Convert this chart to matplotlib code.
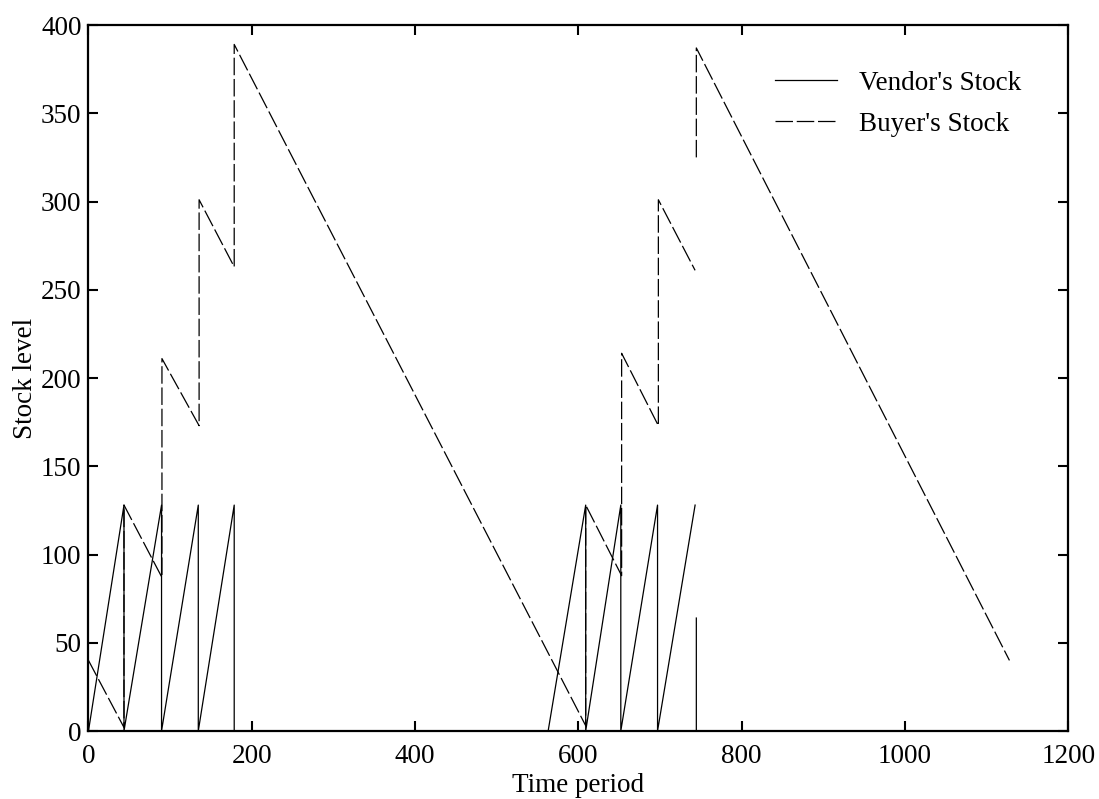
import numpy as np
import matplotlib
matplotlib.use("Agg")
import matplotlib.pyplot as plt

nan = np.nan

# Vendor's stock (solid)
vendor_t = [0, 43.5, 43.5, 89.5, 89.5, 134.5, 134.5, 178.5, 178.5, 563, 609, 609, 652, 652, 697, 697, 743, nan, 744.5, 744.5]
vendor_y = [0, 128, 0, 128, 0, 128, 0, 128, 0, 0, 128, 0, 128, 0, 128, 0, 128, nan, 64, 0]

# Buyer's stock (dashed)
buyer_t = [0, 43.5, 43.5, 90, 90, 135.5, 135.5, 178.5, 178.5, 609, 609, 653, 653, 698, 698, 743, nan, 744.5, 744.5, 1128]
buyer_y = [40, 2, 128, 87, 211, 173, 301, 263, 389, 3, 128, 88, 214, 173, 301, 261, nan, 325, 387, 40]

x_ticks = [0, 200, 400, 600, 800, 1000, 1200]
y_ticks = [0, 50, 100, 150, 200, 250, 300, 350, 400]

plt.rcParams['font.family'] = ['Liberation Serif', 'DejaVu Serif']

fig = plt.figure(figsize=(10.99, 7.99), dpi=100)
ax = fig.add_axes([0.0805, 0.0851, 0.8915, 0.8836])

ax.plot(vendor_t, vendor_y, color='black', lw=0.9, label="Vendor's Stock")
ax.plot(buyer_t, buyer_y, color='black', lw=0.9, linestyle=(0, (14, 3)), label="Buyer's Stock")

ax.set_xlim(0, 1200)
ax.set_ylim(0, 400)
ax.set_xticks(x_ticks)
ax.set_yticks(y_ticks)
ax.tick_params(direction='in', length=7, width=1.5, top=True, right=True,
               labelsize=19.5)
ax.tick_params(axis='x', pad=9)
ax.tick_params(axis='y', pad=5)
for s in ax.spines.values():
    s.set_linewidth(1.6)

ax.set_xlabel('Time period', fontsize=19.5, labelpad=3)
ax.set_ylabel('Stock level', fontsize=19.5, labelpad=2)

leg = ax.legend(loc='upper left', frameon=False, fontsize=19.5,
                handlelength=2.3, handletextpad=0.8, labelspacing=0.58,
                borderpad=0, borderaxespad=0,
                bbox_to_anchor=(0.7006, 0.935))

fig.savefig('out.png', dpi=100)
